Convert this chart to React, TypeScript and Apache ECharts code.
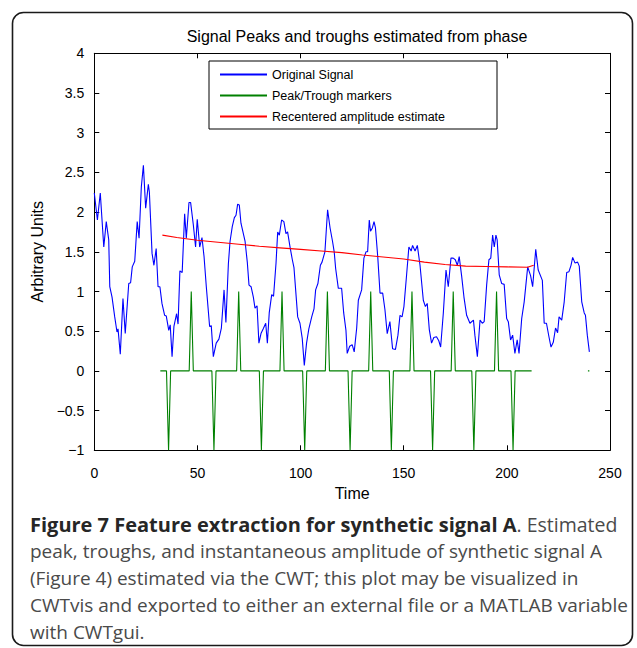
import React, { useEffect, useRef } from "react";
import * as echarts from "echarts";

// ---- Data ----
const signalX: number[] = [0,1.5,2.9,4.6,5.8,7,7.5,8.6,9.9,11,11.5,12.6,13.9,15,16.7,17.6,18.4,19.6,20.8,21.7,22.8,23.8,24.9,26.2,26.7,28,28.9,30,30.9,31.8,32.8,34.1,34.9,36.1,36.8,37.7,38.6,39.9,40.6,41.5,42.6,43.8,44.6,45.9,46.7,48,49.1,49.9,51.1,52.2,53.2,54.3,55.9,56.7,57.7,59.1,60.4,61.6,62.9,63.8,65,65.8,66.9,67.9,68.7,69.5,70.3,71.1,73.1,74.2,75,76,77.1,77.9,78.9,79.8,80.8,81.9,83.1,83.9,84.8,86,86.9,88.1,88.9,89.7,90.8,91.9,92.9,93.7,94.9,96,96.8,98.6,99.7,100.8,101.8,102.9,104,105.4,106.5,107.3,108.4,109.6,110.4,111.8,113.1,114.3,115.5,116.3,117,118.3,119.9,120.9,122,122.6,123.8,125,126,127.2,128,129.6,130.7,131.7,132.5,133.3,133.9,134.8,135.6,136.3,137.4,138.5,139.8,140.9,142,143.3,144.6,146,147.2,148.2,149.2,150.1,151.4,152.5,153.6,154.3,155.5,156.6,157.9,159.5,160.5,161.4,162.4,163.5,164.6,165.9,167,167.9,169.2,170.5,171.6,172.9,174,175,176,176.9,178.1,179.2,180.5,182.1,183.8,184.5,185.7,187,188.1,189,190.2,191.3,192.2,193.1,193.9,194.7,195.3,196.3,197.5,198.7,199.9,200.7,201.8,202.8,203.9,205,205.9,207.2,208.4,210.1,211.5,212.5,214,215.2,217.2,218.1,219.2,220.4,221.4,222.5,223.6,224.6,225.3,226.6,227.8,229,230.1,231.1,231.9,233,234.3,235.1,236.3,237.5,238.1,239,240];
const signalY: number[] = [2.24,1.9,2.24,1.56,1.88,1.65,1.06,0.93,0.68,0.49,0.53,0.21,0.91,0.47,1.1,1.11,1.31,1.38,1.88,1.67,2.32,2.59,2.05,2.35,2.25,1.48,1.33,1.54,1.06,1.06,0.85,0.7,0.69,0.51,0.58,0.18,0.56,0.72,0.59,1.26,1.24,1.98,1.67,2.12,2.12,1.84,1.56,1.91,1.56,1.68,1.44,1.06,0.56,0.57,0.18,0.35,0.4,0.54,1.02,0.61,1.35,1.63,1.82,1.93,1.96,2.1,2.09,1.86,1.63,1.36,1.08,1.06,0.93,0.79,0.82,0.35,0.47,0.53,0.6,0.35,0.73,0.96,0.94,1.36,1.75,1.71,1.9,1.88,1.73,1.75,1.56,1.4,1.3,0.68,0.6,0.41,0.07,0.35,0.53,0.68,0.78,1.02,1.1,1.33,1.37,1.5,2.03,1.8,1.63,1.5,1.29,1.04,1.04,0.73,0.51,0.22,0.31,0.33,0.24,0.54,0.89,1.02,1.42,1.5,1.5,1.9,1.76,1.8,1.88,1.8,1.44,0.98,0.98,0.77,0.47,0.62,0.28,0.27,0.45,0.7,0.68,0.81,1.21,1.56,1.51,1.58,1.51,1.58,1.33,0.89,0.81,0.85,0.52,0.35,0.42,0.43,0.38,0.3,0.73,1.27,1.06,1.42,1.42,1.4,1.33,1.44,1.19,0.93,0.7,0.6,0.64,0.45,0.18,0.64,0.6,0.62,1.08,1.4,1.42,1.71,1.56,1.71,1.65,1.21,1.1,1.09,0.66,0.62,0.39,0.45,0.22,0.39,0.22,0.66,0.87,1.31,1.2,1.06,1.53,1.27,1.14,0.6,0.6,0.43,0.3,0.36,0.54,0.48,0.68,0.64,0.87,1.24,1.25,1.33,1.43,1.36,1.37,1.32,0.87,0.73,0.7,0.45,0.24];

const markerStart = 32;
const markerEnd = 212;
const peakTimes: number[] = [47, 70, 91, 113, 134, 154, 174, 195];
const troughTimes: number[] = [36, 58, 81, 102, 124, 144, 164, 184, 203];
const markerTail: number[][] = [[239.3, 0], [240, 0]];

const ampX: number[] = [33, 40, 50, 60, 70, 80, 90, 100, 110, 120, 130, 140, 150, 160, 170, 180, 190, 200, 210, 213];
const ampY: number[] = [1.71, 1.68, 1.645, 1.62, 1.595, 1.57, 1.55, 1.53, 1.51, 1.49, 1.46, 1.435, 1.41, 1.37, 1.34, 1.32, 1.315, 1.31, 1.305, 1.33];

const xTicks = { min: 0, max: 250, interval: 50 };
const yTicks = { min: -1, max: 4, interval: 0.5 };

const titleText = "Signal Peaks and troughs estimated from phase";
const xName = "Time";
const yName = "Arbitrary Units";
const seriesNames = ["Original Signal", "Peak/Trough markers", "Recentered amplitude estimate"];
const captionBold = "Figure 7 Feature extraction for synthetic signal A";
const captionLines = [
  ". Estimated",
  "peak, troughs, and instantaneous amplitude of synthetic signal A",
  "(Figure 4) estimated via the CWT; this plot may be visualized in",
  "CWTvis and exported to either an external file or a MATLAB variable",
  "with CWTgui.",
];

function buildMarkers(): (number | null)[][] {
  const out: (number | null)[][] = [];
  for (let t = markerStart; t <= markerEnd; t++) {
    let v = 0;
    if (peakTimes.includes(t)) v = 1;
    if (troughTimes.includes(t)) v = -1;
    out.push([t, v]);
  }
  out.push([markerEnd + 1, null]);
  markerTail.forEach((p) => out.push(p));
  return out;
}

export default function App() {
  const ref = useRef<HTMLDivElement>(null);
  useEffect(() => {
    if (!ref.current) return;
    const chart = echarts.init(ref.current, undefined, { renderer: "svg" });
    const font = "'Liberation Sans', Arial, sans-serif";
    const capFont = "'Open Sans', sans-serif";
    const signal = signalX.map((x, i) => [x, signalY[i]]);
    const amp = ampX.map((x, i) => [x, ampY[i]]);
    const fmtY = (v: number) => (v < 0 ? "\u2212" + String(-v) : String(v));
    const capY0 = 528;
    const capGap = 27;
    const capSize = 19;
    chart.setOption({
      animation: false,
      backgroundColor: "#ffffff",
      title: {
        text: titleText,
        left: 352,
        top: 23,
        textAlign: "center",
        textStyle: { fontFamily: font, fontSize: 16, fontWeight: "normal", color: "#000" },
      },
      legend: {
        orient: "vertical",
        left: 209,
        top: 61,
        data: seriesNames,
        itemWidth: 47,
        itemHeight: 14,
        itemGap: 8,
        padding: [7, 52, 6, 10],
        borderColor: "#000",
        borderWidth: 1,
        backgroundColor: "#fff",
        itemStyle: { opacity: 0 },
        textStyle: { fontFamily: font, fontSize: 12.5, color: "#000" },
      },
      grid: { left: 94.3, right: 27, top: 53.3, bottom: 197.7, containLabel: false },
      xAxis: [
        {
          type: "value",
          min: xTicks.min,
          max: xTicks.max,
          interval: xTicks.interval,
          name: xName,
          nameLocation: "middle",
          nameGap: 33,
          nameTextStyle: { fontFamily: font, fontSize: 16, color: "#000" },
          axisLine: { show: true, onZero: false, lineStyle: { color: "#000", width: 1 } },
          axisTick: { show: true, inside: true, length: 5, lineStyle: { color: "#000" } },
          axisLabel: { fontFamily: font, fontSize: 14, color: "#000", margin: 16 },
          splitLine: { show: false },
        },
        {
          type: "value",
          position: "top",
          min: xTicks.min,
          max: xTicks.max,
          interval: xTicks.interval,
          axisLine: { show: true, onZero: false, lineStyle: { color: "#000", width: 1 } },
          axisTick: { show: true, inside: true, length: 5, lineStyle: { color: "#000" } },
          axisLabel: { show: false },
          splitLine: { show: false },
        },
      ],
      yAxis: [
        {
          type: "value",
          min: yTicks.min,
          max: yTicks.max,
          interval: yTicks.interval,
          name: yName,
          nameLocation: "middle",
          nameGap: 48,
          nameTextStyle: { fontFamily: font, fontSize: 16, color: "#000" },
          axisLine: { show: true, onZero: false, lineStyle: { color: "#000", width: 1 } },
          axisTick: { show: true, inside: true, length: 5, lineStyle: { color: "#000" } },
          axisLabel: { fontFamily: font, fontSize: 14, color: "#000", margin: 10, formatter: fmtY },
          splitLine: { show: false },
        },
        {
          type: "value",
          position: "right",
          min: yTicks.min,
          max: yTicks.max,
          interval: yTicks.interval,
          axisLine: { show: true, onZero: false, lineStyle: { color: "#000", width: 1 } },
          axisTick: { show: true, inside: true, length: 5, lineStyle: { color: "#000" } },
          axisLabel: { show: false },
          splitLine: { show: false },
        },
      ],
      series: [
        {
          name: seriesNames[0],
          type: "line",
          data: signal,
          symbol: "none",
          lineStyle: { color: "#0000ff", width: 1.1 },
          itemStyle: { color: "#0000ff" },
          z: 3,
        },
        {
          name: seriesNames[1],
          type: "line",
          data: buildMarkers(),
          symbol: "none",
          connectNulls: false,
          lineStyle: { color: "#008000", width: 1.1 },
          itemStyle: { color: "#008000" },
          z: 2,
        },
        {
          name: seriesNames[2],
          type: "line",
          data: amp,
          symbol: "none",
          lineStyle: { color: "#ff0000", width: 1.1 },
          itemStyle: { color: "#ff0000" },
          z: 4,
        },
      ],
      graphic: [
        {
          type: "rect",
          shape: { x: 12.5, y: 12.5, width: 620, height: 633, r: 11 },
          style: { fill: "none", stroke: "#1a1a1a", lineWidth: 1.6 },
          silent: true,
          z: 0,
        },
        {
          type: "text",
          left: 30,
          top: capY0 - 14,
          style: {
            text: "{b|" + captionBold + "}{n|" + captionLines[0] + "}",
            rich: {
              b: { fontFamily: capFont, fontSize: 20, fontWeight: "bold", fill: "#262626" },
              n: { fontFamily: capFont, fontSize: 19.5, fill: "#4a4a4a" },
            },
          },
        },
        ...captionLines.slice(1).map((line, i) => ({
          type: "text",
          left: 30,
          top: capY0 - 14 + (i + 1) * capGap,
          style: { text: line, fontFamily: capFont, fontSize: capSize, fill: "#4a4a4a" },
        })),
      ],
    });
    return () => chart.dispose();
  }, []);
  return (
    <div
      ref={ref}
      style={{ position: "absolute", left: 0, top: 0, width: 637, height: 648 }}
    />
  );
}
